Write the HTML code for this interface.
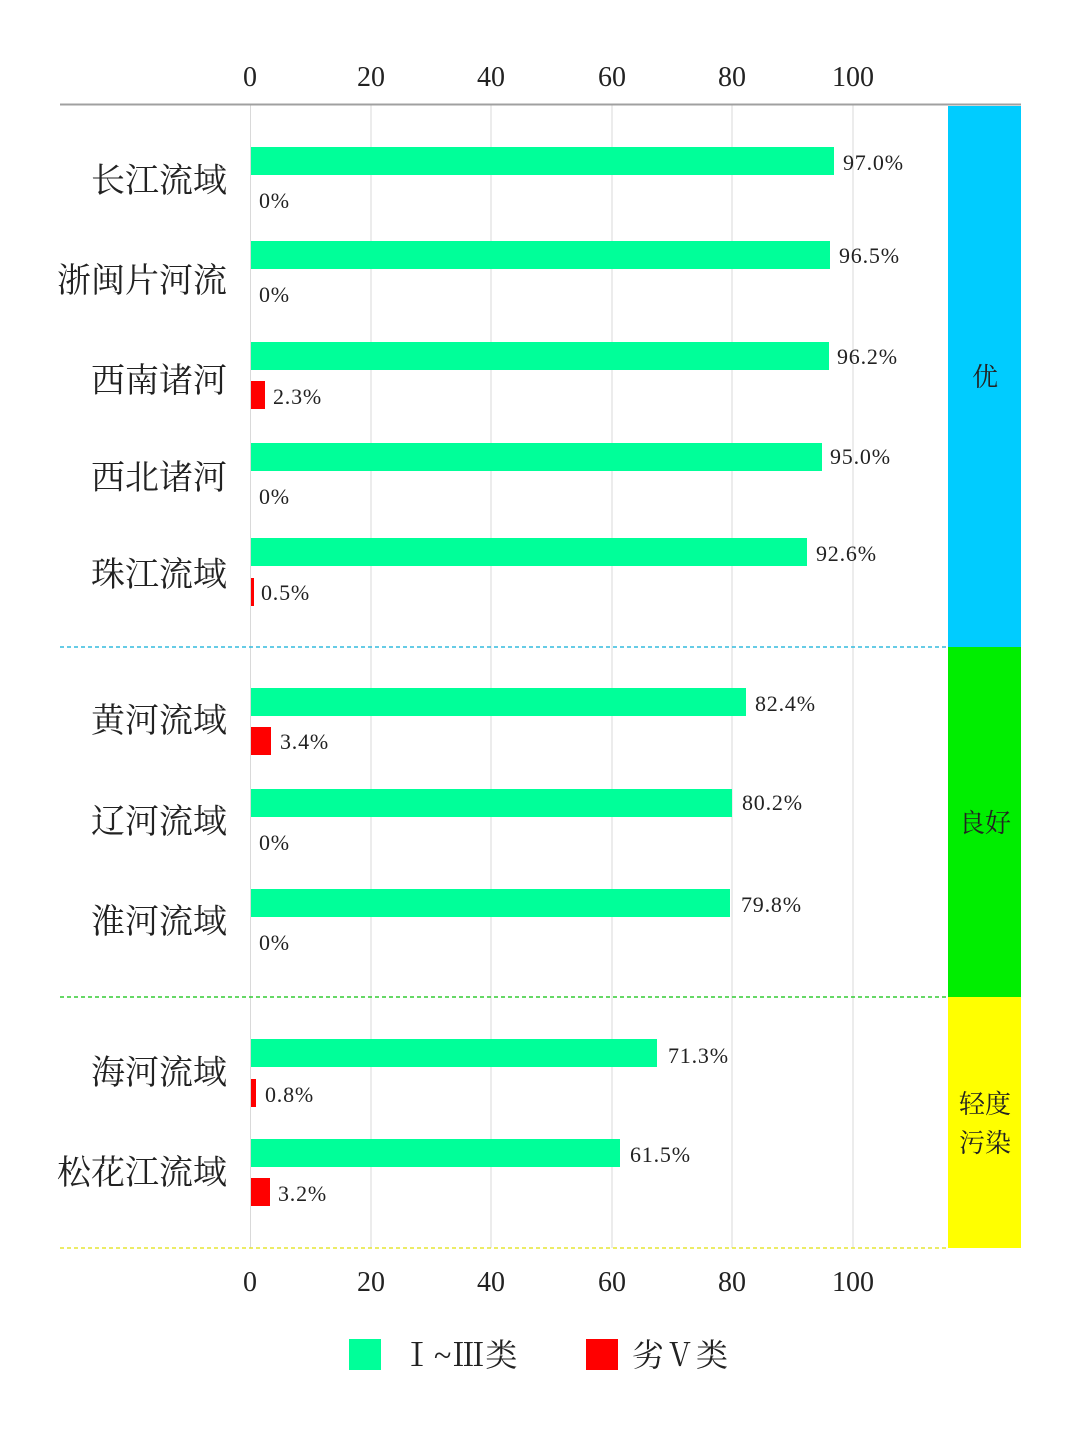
<!DOCTYPE html>
<html><head><meta charset="utf-8"><style>
html,body{margin:0;padding:0;background:#fff;}
svg text{font-family:"Liberation Serif","Noto Serif CJK SC","Noto Sans CJK SC",serif;fill:#222;}
</style></head><body>
<svg width="1080" height="1426" viewBox="0 0 1080 1426" xmlns="http://www.w3.org/2000/svg">
<g stroke="#d9d9d9" stroke-width="1">
<line x1="250.5" y1="104" x2="250.5" y2="1248"/>
<line x1="371" y1="104" x2="371" y2="1248"/>
<line x1="491" y1="104" x2="491" y2="1248"/>
<line x1="612" y1="104" x2="612" y2="1248"/>
<line x1="732" y1="104" x2="732" y2="1248"/>
<line x1="853" y1="104" x2="853" y2="1248"/>
</g>
<line x1="60" y1="104.5" x2="1021" y2="104.5" stroke="#a0a0a0" stroke-width="2"/>
<rect x="948" y="106" width="73" height="541" fill="#00ccff"/>
<rect x="948" y="647" width="73" height="350" fill="#00ee00"/>
<rect x="948" y="997" width="73" height="251" fill="#ffff00"/>
<g font-size="26" text-anchor="middle">
<text x="985" y="386">优</text>
<text x="985" y="832">良好</text>
<text x="985" y="1113">轻度</text>
<text x="985" y="1152">污染</text>
</g>
<line x1="60" y1="647" x2="948" y2="647" stroke="#33bbdd" stroke-width="1.5" stroke-dasharray="4,3"/>
<line x1="60" y1="997" x2="948" y2="997" stroke="#33cc33" stroke-width="1.5" stroke-dasharray="4,3"/>
<line x1="60" y1="1248" x2="948" y2="1248" stroke="#e6e633" stroke-width="1.5" stroke-dasharray="4,3"/>
<g font-size="28" text-anchor="middle">
<text x="250" y="86">0</text><text x="371" y="86">20</text><text x="491" y="86">40</text><text x="612" y="86">60</text><text x="732" y="86">80</text><text x="853" y="86">100</text>
<text x="250" y="1291">0</text><text x="371" y="1291">20</text><text x="491" y="1291">40</text><text x="612" y="1291">60</text><text x="732" y="1291">80</text><text x="853" y="1291">100</text>
</g>
<g font-size="34" text-anchor="end">
<text x="227" y="192">长江流域</text>
<text x="227" y="292">浙闽片河流</text>
<text x="227" y="392">西南诸河</text>
<text x="227" y="489">西北诸河</text>
<text x="227" y="586">珠江流域</text>
<text x="227" y="732">黄河流域</text>
<text x="227" y="833">辽河流域</text>
<text x="227" y="933">淮河流域</text>
<text x="227" y="1084">海河流域</text>
<text x="227" y="1184">松花江流域</text>
</g>
<g fill="#00ff99">
<rect x="251" y="147" width="583" height="28"/>
<rect x="251" y="241" width="579" height="28"/>
<rect x="251" y="342" width="578" height="28"/>
<rect x="251" y="443" width="571" height="28"/>
<rect x="251" y="538" width="556" height="28"/>
<rect x="251" y="688" width="495" height="28"/>
<rect x="251" y="789" width="481" height="28"/>
<rect x="251" y="889" width="479" height="28"/>
<rect x="251" y="1039" width="406" height="28"/>
<rect x="251" y="1139" width="369" height="28"/>
</g>
<g fill="#ff0000">
<rect x="251" y="381" width="14" height="28"/>
<rect x="251" y="578" width="3" height="28"/>
<rect x="251" y="727" width="20" height="28"/>
<rect x="251" y="1079" width="5" height="28"/>
<rect x="251" y="1178" width="19" height="28"/>
</g>
<g font-size="22" letter-spacing="0.8">
<text x="843" y="170">97.0%</text><text x="259" y="208">0%</text>
<text x="839" y="263">96.5%</text><text x="259" y="302">0%</text>
<text x="837" y="364">96.2%</text><text x="273" y="404">2.3%</text>
<text x="830" y="464">95.0%</text><text x="259" y="504">0%</text>
<text x="816" y="561">92.6%</text><text x="261" y="600">0.5%</text>
<text x="755" y="711">82.4%</text><text x="280" y="749">3.4%</text>
<text x="742" y="810">80.2%</text><text x="259" y="850">0%</text>
<text x="741" y="912">79.8%</text><text x="259" y="950">0%</text>
<text x="668" y="1063">71.3%</text><text x="265" y="1102">0.8%</text>
<text x="630" y="1162">61.5%</text><text x="278" y="1201">3.2%</text>
</g>
<rect x="349" y="1339" width="32" height="31" fill="#00ff99"/>
<text x="401" y="1366" font-size="32" letter-spacing="1">Ⅰ~Ⅲ类</text>
<rect x="586" y="1339" width="32" height="31" fill="#ff0000"/>
<text x="632" y="1366" font-size="32">劣Ⅴ类</text>
</svg>
</body></html>
